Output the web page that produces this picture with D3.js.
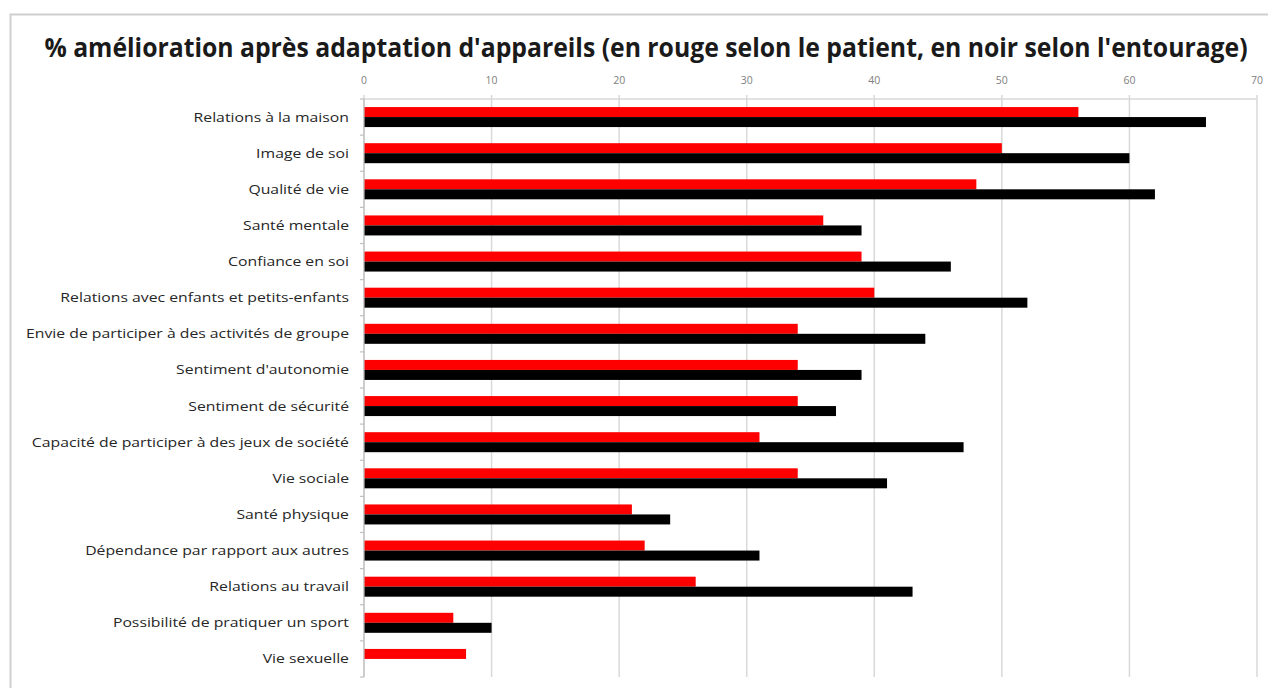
<!DOCTYPE html>
<html><head><meta charset="utf-8">
<script src="https://cdn.jsdelivr.net/npm/d3@7"></script>
<style>html,body{margin:0;padding:0;background:#fff;overflow:hidden}</style>
</head><body>
<svg id="c" width="1268" height="688"></svg>
<script>
const categories = [
  "Relations à la maison","Image de soi","Qualité de vie","Santé mentale","Confiance en soi",
  "Relations avec enfants et petits-enfants","Envie de participer à des activités de groupe",
  "Sentiment d'autonomie","Sentiment de sécurité","Capacité de participer à des jeux de société",
  "Vie sociale","Santé physique","Dépendance par rapport aux autres","Relations au travail",
  "Possibilité de pratiquer un sport","Vie sexuelle"
];
const patient   = [56,50,48,36,39,40,34,34,34,31,34,21,22,26,7,8];
const entourage = [66,60,62,39,46,52,44,39,37,47,41,24,31,43,10,0];
const xTicks = [0,10,20,30,40,50,60,70];
const title = "% amélioration après adaptation d'appareils (en rouge selon le patient, en noir selon l'entourage)";

(function(){
const svg = d3.select("#c");
const pL = 364, pR = 1257, pT = 99, pB = 677;

svg.append("rect").attr("x",10.5).attr("y",14.5).attr("width",1300).attr("height",700)
  .attr("fill","#fff").attr("stroke","#cfcfcf").attr("stroke-width",2);

const x = d3.scaleLinear().domain([0,70]).range([pL,pR]);
const y = d3.scaleBand().domain(categories).range([pT,pB]).padding(0);

// gridlines
svg.append("g").selectAll("line").data(xTicks).join("line")
  .attr("x1",d=>x(d)).attr("x2",d=>x(d)).attr("y1",pT-4).attr("y2",pB)
  .attr("stroke","#d9d9d9").attr("stroke-width",1.5);
// top axis line
svg.append("line").attr("x1",pL).attr("x2",pR).attr("y1",pT).attr("y2",pT)
  .attr("stroke","#d9d9d9").attr("stroke-width",1.5);
// tick labels
svg.append("g").selectAll("text").data(xTicks).join("text")
  .attr("x",d=>x(d)).attr("y",84).attr("text-anchor","middle")
  .attr("font-family","Open Sans, sans-serif").attr("font-size",10.5).attr("fill","#808080")
  .text(d=>d);

const bh = 10;
const g = svg.append("g");
g.selectAll("rect.p").data(categories).join("rect").attr("class","p")
  .attr("x",x(0)).attr("y",(d)=>y(d)+y.bandwidth()/2-bh)
  .attr("width",(d,i)=>x(patient[i])-x(0)).attr("height",bh).attr("fill","#ff0000");
g.selectAll("rect.e").data(categories).join("rect").attr("class","e")
  .attr("x",x(0)).attr("y",(d)=>y(d)+y.bandwidth()/2)
  .attr("width",(d,i)=>x(entourage[i])-x(0)).attr("height",bh).attr("fill","#000");

// left axis
svg.append("line").attr("x1",pL).attr("x2",pL).attr("y1",pT).attr("y2",pB)
  .attr("stroke","#bfbfbf").attr("stroke-width",1.2);
svg.append("g").selectAll("line").data(d3.range(categories.length+1)).join("line")
  .attr("x1",pL-4).attr("x2",pL).attr("y1",i=>pT+i*y.step()).attr("y2",i=>pT+i*y.step())
  .attr("stroke","#bfbfbf").attr("stroke-width",1.2);

// category labels
const labs = svg.append("g").selectAll("text").data(categories).join("text")
  .attr("x",349).attr("y",d=>y(d)+y.bandwidth()/2+4.5).attr("text-anchor","end")
  .attr("font-family","Open Sans, sans-serif").attr("font-size",13.5).attr("fill","#262626")
  .text(d=>d);
const node = labs.nodes()[6];
const wMeasured = node.getComputedTextLength();
const targetW = 323;
labs.each(function(){
  const w = this.getComputedTextLength();
  d3.select(this).attr("textLength", w*targetW/wMeasured).attr("lengthAdjust","spacingAndGlyphs");
});

// title (horizontally condensed via transform to mimic Calibri width)
const tg = svg.append("g");
const t = tg.append("text").attr("x",0).attr("y",0).attr("text-anchor","middle")
  .attr("font-family","Open Sans, sans-serif").attr("font-weight","bold").attr("font-size",26)
  .attr("fill","#1a1a1a").text(title);
const tw = t.node().getComputedTextLength();
const sx = Math.min(1, 1204 / tw);
tg.attr("transform", `translate(646,57) scale(${sx},1)`);
})();
</script>
</body></html>
